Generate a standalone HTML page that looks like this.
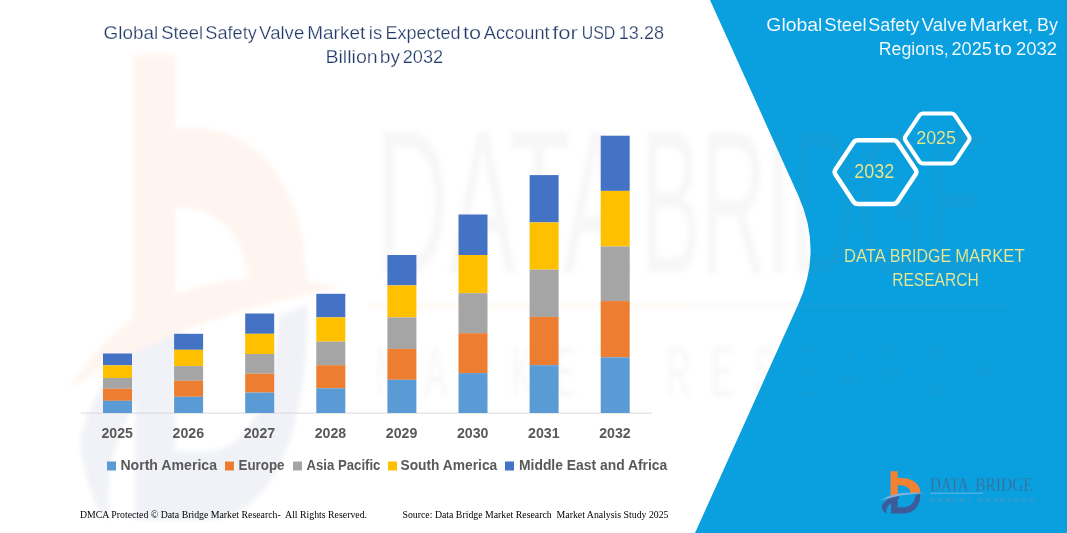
<!DOCTYPE html>
<html><head><meta charset="utf-8"><title>Global Steel Safety Valve Market</title>
<style>
html,body{margin:0;padding:0;background:#fff;}
body{width:1067px;height:533px;overflow:hidden;font-family:"Liberation Sans",sans-serif;}
svg{display:block;}
text{font-family:"Liberation Sans",sans-serif;}
.serif{font-family:"Liberation Serif",serif;}
.thinw{stroke:#ffffff;stroke-width:0.25;paint-order:fill stroke;}
.thinb{stroke:#0aa0df;stroke-width:0.12;paint-order:fill stroke;}
</style></head><body>
<svg width="1067" height="533" viewBox="0 0 1067 533">
<defs><g id="logo">
<path d="M890.5,471.2 H897.7 V478 C911,477 920.4,482.5 920.4,493 L910.6,493.5 C910.6,488 906,485.1 897.7,485.1 V494.5 L890.5,496 Z" fill="#f58233"/>
<path d="M920.4,494 C920.6,506 914,513.5 903,513.5 H891 V499.5 L897.7,497.3 V507.3 H903 C910,507.3 914.8,503 915.6,495 Z" fill="#3d5a9a"/>
<path d="M899,495.6 C890,497.5 884,501 881.6,506.2 C882,509.5 884,512.3 886.3,513.6 C885.6,508 889,502 899,498.4 Z" fill="#3d5a9a"/>
<path d="M879.8,500.8 C890,493.6 906,490.9 926,493.2 C908,493.8 892,496.4 879.8,500.8 Z" fill="#86b0d6"/>
</g><g id="wmlogo">
<path d="M890.5,471.2 H897.7 V478 C911,477 920.4,482.5 920.4,493 L910.6,493.5 C910.6,488 906,485.1 897.7,485.1 V494.5 L890.5,496 Z" fill="#f58233"/>
<path d="M920.4,494 C920.6,506 914,513.5 903,513.5 H891 V499.5 L897.7,497.3 V507.3 H903 C910,507.3 914.8,503 915.6,495 Z" fill="#3d5a9a"/>
<path d="M899,495.6 C890,497.5 884,501 881.6,506.2 C882,509.5 884,512.3 886.3,513.6 C885.6,508 889,502 899,498.4 Z" fill="#3d5a9a"/>
<path d="M879.6,501.6 C890,492.8 906,489.8 926,492.4 C908,494.2 892,497.2 879.6,501.6 Z" fill="#f58233"/>
</g><filter id="bl" x="-5%" y="-5%" width="110%" height="110%"><feGaussianBlur stdDeviation="2.2"/></filter></defs>
<rect width="1067" height="533" fill="#ffffff"/>
<!-- blue panel -->
<path d="M710,0 L798.4,195.8 Q822.8,250 798.4,304 L695,533 L1067,533 L1067,0 Z" fill="#0aa0df"/>
<!-- watermark -->
<g filter="url(#bl)"><g opacity="0.08" transform="translate(-5058.9,-5128.8) scale(5.83,11)"><use href="#wmlogo"/></g>
<g opacity="0.06">
<g fill="#777" font-size="18">
<text transform="translate(375.7,273) scale(6.75,11.35)" x="0" y="0" textLength="37.7" lengthAdjust="spacingAndGlyphs">DATA</text>
<text transform="translate(641,273) scale(6.12,11.35)" x="0" y="0" textLength="56.5" lengthAdjust="spacingAndGlyphs">BRIDGE</text>
</g>
<rect x="370" y="303.5" width="322" height="4.5" fill="#f58233"/>
<rect x="692" y="303.5" width="316" height="4.5" fill="#888"/>
<text transform="translate(375.7,396) scale(5.98,12.5)" x="0" y="0" font-size="5.6" fill="#777" textLength="103.5" lengthAdjust="spacing">MARKET RESEARCH</text>
</g></g>
<!-- title -->
<g fill="#213a68" font-size="18" class="thinw">
<text x="103.50" y="39" textLength="54.60" lengthAdjust="spacingAndGlyphs">Global</text><text x="161.20" y="39" textLength="41.90" lengthAdjust="spacingAndGlyphs">Steel</text><text x="205.30" y="39" textLength="51.60" lengthAdjust="spacingAndGlyphs">Safety</text><text x="259.10" y="39" textLength="45.20" lengthAdjust="spacingAndGlyphs">Valve</text><text x="307.30" y="39" textLength="57.90" lengthAdjust="spacingAndGlyphs">Market</text><text x="368.80" y="39" textLength="13.30" lengthAdjust="spacingAndGlyphs">is</text><text x="385.40" y="39" textLength="75.20" lengthAdjust="spacingAndGlyphs">Expected</text><text x="463.10" y="39" textLength="18.10" lengthAdjust="spacingAndGlyphs">to</text><text x="483.80" y="39" textLength="65.80" lengthAdjust="spacingAndGlyphs">Account</text><text x="552.20" y="39" textLength="25.70" lengthAdjust="spacingAndGlyphs">for</text><text x="581.70" y="39" textLength="33.50" lengthAdjust="spacingAndGlyphs">USD</text><text x="618.80" y="39" textLength="45.20" lengthAdjust="spacingAndGlyphs">13.28</text>
<text x="325.40" y="62.9" textLength="52.30" lengthAdjust="spacingAndGlyphs">Billion</text><text x="379.80" y="62.9" textLength="20.40" lengthAdjust="spacingAndGlyphs">by</text><text x="402.70" y="62.9" textLength="40.40" lengthAdjust="spacingAndGlyphs">2032</text>
</g>
<!-- axis -->
<rect x="81" y="412.6" width="571" height="1" fill="#d9d9d9"/>
<!-- bars -->
<rect x="103.0" y="353.5" width="29" height="11.8" fill="#4472C4"/>
<rect x="103.0" y="365.3" width="29" height="12.7" fill="#FFC000"/>
<rect x="103.0" y="378.0" width="29" height="10.7" fill="#A5A5A5"/>
<rect x="103.0" y="388.7" width="29" height="12.1" fill="#ED7D31"/>
<rect x="103.0" y="400.8" width="29" height="12.2" fill="#5B9BD5"/>
<rect x="174.1" y="333.8" width="29" height="16.0" fill="#4472C4"/>
<rect x="174.1" y="349.8" width="29" height="16.3" fill="#FFC000"/>
<rect x="174.1" y="366.1" width="29" height="14.7" fill="#A5A5A5"/>
<rect x="174.1" y="380.8" width="29" height="16.0" fill="#ED7D31"/>
<rect x="174.1" y="396.8" width="29" height="16.2" fill="#5B9BD5"/>
<rect x="245.2" y="313.5" width="29" height="20.3" fill="#4472C4"/>
<rect x="245.2" y="333.8" width="29" height="20.2" fill="#FFC000"/>
<rect x="245.2" y="354.0" width="29" height="19.7" fill="#A5A5A5"/>
<rect x="245.2" y="373.7" width="29" height="18.9" fill="#ED7D31"/>
<rect x="245.2" y="392.6" width="29" height="20.4" fill="#5B9BD5"/>
<rect x="316.3" y="293.8" width="29" height="23.6" fill="#4472C4"/>
<rect x="316.3" y="317.4" width="29" height="24.2" fill="#FFC000"/>
<rect x="316.3" y="341.6" width="29" height="23.6" fill="#A5A5A5"/>
<rect x="316.3" y="365.2" width="29" height="23.1" fill="#ED7D31"/>
<rect x="316.3" y="388.3" width="29" height="24.7" fill="#5B9BD5"/>
<rect x="387.4" y="255.0" width="29" height="30.4" fill="#4472C4"/>
<rect x="387.4" y="285.4" width="29" height="32.0" fill="#FFC000"/>
<rect x="387.4" y="317.4" width="29" height="31.5" fill="#A5A5A5"/>
<rect x="387.4" y="348.9" width="29" height="30.9" fill="#ED7D31"/>
<rect x="387.4" y="379.8" width="29" height="33.2" fill="#5B9BD5"/>
<rect x="458.5" y="214.5" width="29" height="40.5" fill="#4472C4"/>
<rect x="458.5" y="255.0" width="29" height="38.2" fill="#FFC000"/>
<rect x="458.5" y="293.2" width="29" height="40.0" fill="#A5A5A5"/>
<rect x="458.5" y="333.2" width="29" height="39.9" fill="#ED7D31"/>
<rect x="458.5" y="373.1" width="29" height="39.9" fill="#5B9BD5"/>
<rect x="529.6" y="175.1" width="29" height="47.3" fill="#4472C4"/>
<rect x="529.6" y="222.4" width="29" height="47.2" fill="#FFC000"/>
<rect x="529.6" y="269.6" width="29" height="47.3" fill="#A5A5A5"/>
<rect x="529.6" y="316.9" width="29" height="48.3" fill="#ED7D31"/>
<rect x="529.6" y="365.2" width="29" height="47.8" fill="#5B9BD5"/>
<rect x="600.7" y="135.7" width="29" height="55.2" fill="#4472C4"/>
<rect x="600.7" y="190.9" width="29" height="55.6" fill="#FFC000"/>
<rect x="600.7" y="246.5" width="29" height="54.6" fill="#A5A5A5"/>
<rect x="600.7" y="301.1" width="29" height="56.2" fill="#ED7D31"/>
<rect x="600.7" y="357.3" width="29" height="55.7" fill="#5B9BD5"/>
<!-- years -->
<g fill="#595959" font-size="14.5" font-weight="bold">
<text x="117.2" y="438.3" text-anchor="middle" textLength="31.5" lengthAdjust="spacingAndGlyphs">2025</text>
<text x="188.3" y="438.3" text-anchor="middle" textLength="31.5" lengthAdjust="spacingAndGlyphs">2026</text>
<text x="259.4" y="438.3" text-anchor="middle" textLength="31.5" lengthAdjust="spacingAndGlyphs">2027</text>
<text x="330.5" y="438.3" text-anchor="middle" textLength="31.5" lengthAdjust="spacingAndGlyphs">2028</text>
<text x="401.6" y="438.3" text-anchor="middle" textLength="31.5" lengthAdjust="spacingAndGlyphs">2029</text>
<text x="472.7" y="438.3" text-anchor="middle" textLength="31.5" lengthAdjust="spacingAndGlyphs">2030</text>
<text x="543.8" y="438.3" text-anchor="middle" textLength="31.5" lengthAdjust="spacingAndGlyphs">2031</text>
<text x="614.9" y="438.3" text-anchor="middle" textLength="31.5" lengthAdjust="spacingAndGlyphs">2032</text>
</g>
<!-- legend -->
<g fill="#595959" font-size="14.7" font-weight="bold">
<rect x="107" y="461.5" width="9" height="9" fill="#5B9BD5"/><text x="120.4" y="470" textLength="96.6" lengthAdjust="spacingAndGlyphs">North America</text>
<rect x="225" y="461.5" width="9" height="9" fill="#ED7D31"/><text x="238.5" y="470" textLength="46.0" lengthAdjust="spacingAndGlyphs">Europe</text>
<rect x="293" y="461.5" width="9" height="9" fill="#A5A5A5"/><text x="306.5" y="470" textLength="73.9" lengthAdjust="spacingAndGlyphs">Asia Pacific</text>
<rect x="388" y="461.5" width="9" height="9" fill="#FFC000"/><text x="400.5" y="470" textLength="96.7" lengthAdjust="spacingAndGlyphs">South America</text>
<rect x="505" y="461.5" width="9" height="9" fill="#4472C4"/><text x="519" y="470" textLength="148.3" lengthAdjust="spacingAndGlyphs">Middle East and Africa</text>
</g>
<!-- footer -->
<g class="serif" fill="#000" font-size="10">
<text class="serif" x="80" y="518" textLength="287" lengthAdjust="spacingAndGlyphs" xml:space="preserve">DMCA Protected © Data Bridge Market Research-  All Rights Reserved.</text>
<text class="serif" x="402.5" y="518" textLength="266" lengthAdjust="spacingAndGlyphs" xml:space="preserve">Source: Data Bridge Market Research  Market Analysis Study 2025</text>
</g>
<!-- right title -->
<g fill="#ffffff" font-size="18" class="thinb">
<text x="766.30" y="30.8" textLength="56.10" lengthAdjust="spacingAndGlyphs">Global</text><text x="824.30" y="30.8" textLength="42.30" lengthAdjust="spacingAndGlyphs">Steel</text><text x="868.30" y="30.8" textLength="51.00" lengthAdjust="spacingAndGlyphs">Safety</text><text x="921.50" y="30.8" textLength="45.60" lengthAdjust="spacingAndGlyphs">Valve</text><text x="969.50" y="30.8" textLength="63.60" lengthAdjust="spacingAndGlyphs">Market,</text><text x="1037.00" y="30.8" textLength="20.90" lengthAdjust="spacingAndGlyphs">By</text>
<text x="878.80" y="54.8" textLength="69.90" lengthAdjust="spacingAndGlyphs">Regions,</text><text x="951.50" y="54.8" textLength="40.40" lengthAdjust="spacingAndGlyphs">2025</text><text x="994.30" y="54.8" textLength="17.80" lengthAdjust="spacingAndGlyphs">to</text><text x="1016.00" y="54.8" textLength="41.10" lengthAdjust="spacingAndGlyphs">2032</text>
</g>
<!-- hexagons -->
<g fill="none" stroke="#ffffff" stroke-linejoin="round">
<path d="M835.46,174.50 Q833.80,172.00 835.47,169.51 L853.33,142.79 Q855.00,140.30 858.00,140.30 L893.00,140.30 Q896.00,140.30 897.67,142.79 L915.53,169.51 Q917.20,172.00 915.54,174.50 L897.66,201.50 Q896.00,204.00 893.00,204.00 L858.00,204.00 Q855.00,204.00 853.34,201.50 Z" stroke-width="4.5"/>
<path d="M905.48,140.58 Q904.10,138.50 905.48,136.42 L919.32,115.58 Q920.70,113.50 923.20,113.50 L951.20,113.50 Q953.70,113.50 955.08,115.58 L968.92,136.42 Q970.30,138.50 968.92,140.58 L955.08,161.42 Q953.70,163.50 951.20,163.50 L923.20,163.50 Q920.70,163.50 919.32,161.42 Z" stroke-width="4"/>
</g>
<g fill="#efe88a" class="thinb">
<text x="854.2" y="178" font-size="19.3" textLength="40" lengthAdjust="spacingAndGlyphs">2032</text>
<text x="916.2" y="144" font-size="18.4" textLength="39.8" lengthAdjust="spacingAndGlyphs">2025</text>
</g>
<g fill="#eee78e" font-size="18" class="thinb">
<text x="844.00" y="261.9" textLength="41.90" lengthAdjust="spacingAndGlyphs">DATA</text><text x="889.80" y="261.9" textLength="61.40" lengthAdjust="spacingAndGlyphs">BRIDGE</text><text x="955.20" y="261.9" textLength="69.50" lengthAdjust="spacingAndGlyphs">MARKET</text>
<text x="892.20" y="285.7" textLength="86.60" lengthAdjust="spacingAndGlyphs">RESEARCH</text>
</g>
<!-- logo -->
<use href="#logo"/>

<g class="serif" fill="#3e6b94" font-size="19.5" style="stroke:#0aa0df;stroke-width:0.3;paint-order:fill stroke">
<text class="serif" x="929.9" y="490.7" textLength="38.8" lengthAdjust="spacingAndGlyphs">DATA</text>
<text class="serif" x="975.2" y="490.7" textLength="57.6" lengthAdjust="spacingAndGlyphs">BRIDGE</text>
</g>
<rect x="930" y="492.8" width="53.2" height="0.8" fill="#7fb8e0"/>
<text x="930.4" y="502.3" font-size="5.6" fill="#5f90b4" textLength="103.5" lengthAdjust="spacing">MARKET RESEARCH</text>

</svg>
</body></html>
